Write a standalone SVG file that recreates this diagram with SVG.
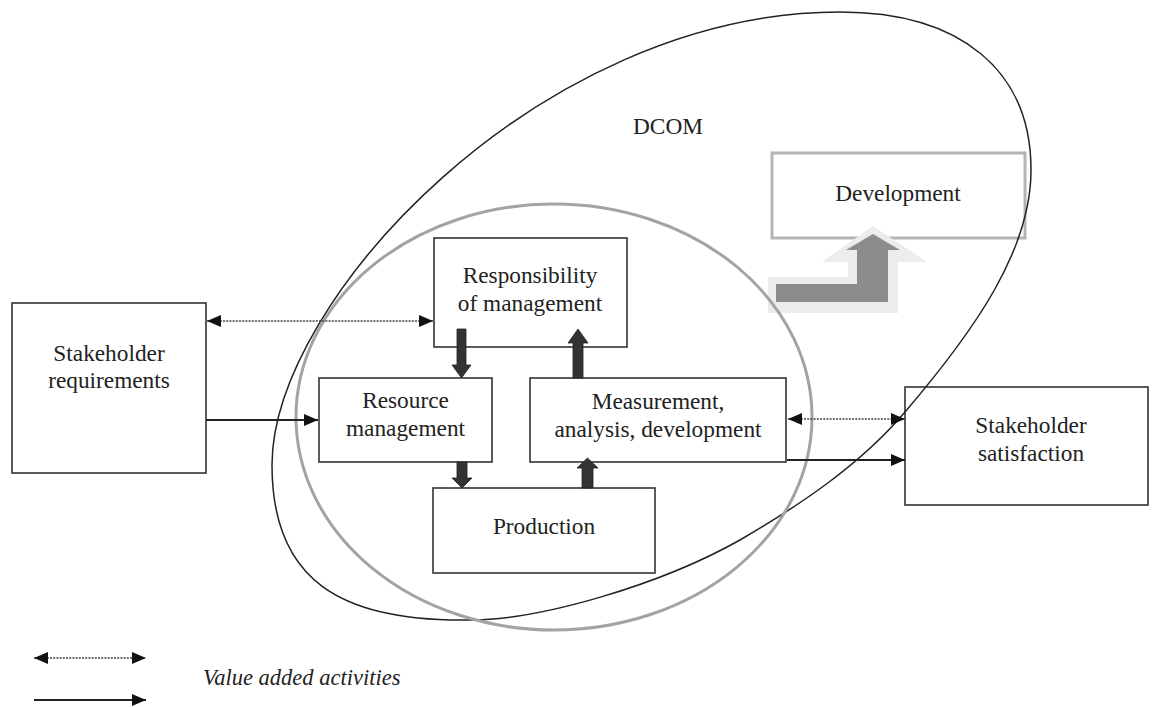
<svg xmlns="http://www.w3.org/2000/svg" width="1152" height="707" viewBox="0 0 1152 707">
<style>
.box{fill:#fff;stroke:#333;stroke-width:1.6}
.t{font-family:'Liberation Serif','DejaVu Serif',serif;font-size:23.3px;fill:#222;text-anchor:middle}
.lg{font-family:'Liberation Serif','DejaVu Serif',serif;font-size:22.5px;font-style:italic;fill:#222}
.dot{stroke:#444;stroke-width:1.6;stroke-dasharray:2 1.2;fill:none}
.sol{stroke:#222;stroke-width:1.8;fill:none}
.blk{fill:#333;stroke:#222;stroke-width:0.8}
</style>
<defs>
<marker id="ah" viewBox="0 0 14 12" refX="14" refY="6" markerWidth="14" markerHeight="12" markerUnits="userSpaceOnUse" orient="auto-start-reverse">
<path d="M0,0 L14,6 L0,12 Z" fill="#111"/>
</marker>
</defs>
<rect width="1152" height="707" fill="#fff"/>

<g id="stakeholder-requirements">
<rect class="box" x="12" y="303" width="194" height="170"/>
<text class="t" x="109" y="361">Stakeholder</text>
<text class="t" x="109" y="388">requirements</text>
</g>
<g id="responsibility">
<rect class="box" x="434" y="238" width="193" height="109"/>
<text class="t" x="530" y="283">Responsibility</text>
<text class="t" x="530" y="311">of management</text>
</g>
<g id="resource-management">
<rect class="box" x="319" y="378" width="173" height="84"/>
<text class="t" x="405.5" y="408">Resource</text>
<text class="t" x="405.5" y="436">management</text>
</g>
<g id="measurement">
<rect class="box" x="530" y="378" width="256" height="84"/>
<text class="t" x="658" y="409">Measurement,</text>
<text class="t" x="658" y="437">analysis, development</text>
</g>
<g id="production">
<rect class="box" x="433" y="488" width="222" height="85"/>
<text class="t" x="544" y="534">Production</text>
</g>
<g id="stakeholder-satisfaction">
<rect class="box" x="905" y="387" width="243" height="118"/>
<text class="t" x="1031" y="433">Stakeholder</text>
<text class="t" x="1031" y="461">satisfaction</text>
</g>
<g id="development">
<rect x="772" y="153" width="253" height="85" fill="#fff" stroke="#b5b5b5" stroke-width="3"/>
<text class="t" x="898" y="201">Development</text>
</g>
<g id="development-arrow">
<polygon points="768,277 848,277 848,262 822,262 873,226 927,262 898,262 898,313 768,313" fill="#ececec"/>
<polygon points="776,284 857,284 857,250 846,250 873,234 900,250 888,250 888,302 776,302" fill="#8c8c8c"/>
</g>

<g id="dcom">
<path d="M840,12 C960,12 1031,70 1031,170 C1031,250 975,330 905,412 C860,465 800,505 740,540 C660,585 540,620 470,620 C340,622 272,580 272,465 C272,300 540,12 840,12 Z" fill="none" stroke="#222" stroke-width="1.5"/>
<text class="t" x="668" y="134">DCOM</text>
</g>
<g id="qms">
<ellipse cx="554" cy="417" rx="258" ry="213" fill="none" stroke="#a3a3a3" stroke-width="3"/>
</g>

<g id="connectors">
<line class="dot" x1="207" y1="321" x2="433" y2="321" marker-start="url(#ah)" marker-end="url(#ah)"/>
<line class="sol" x1="206" y1="420" x2="318" y2="420" marker-end="url(#ah)"/>
<line class="dot" x1="788" y1="419" x2="905" y2="419" marker-start="url(#ah)" marker-end="url(#ah)"/>
<line class="sol" x1="787" y1="460" x2="905" y2="460" marker-end="url(#ah)"/>
<polygon class="blk" points="457,329 466,329 466,365 471,365 461.5,378 452,365 457,365"/>
<polygon class="blk" points="573,378 573,343 568,343 578,329 588,343 583,343 583,378"/>
<polygon class="blk" points="457,462 467,462 467,478 472,478 462,488 452,478 457,478"/>
<polygon class="blk" points="582,488 582,468 577,468 587.5,458 598,468 593,468 593,488"/>
</g>

<g id="legend">
<line class="dot" x1="34" y1="658" x2="146" y2="658" marker-start="url(#ah)" marker-end="url(#ah)"/>
<line class="sol" x1="34" y1="700" x2="146" y2="700" marker-end="url(#ah)"/>
<text class="lg" x="203" y="685">Value added activities</text>
</g>
</svg>
